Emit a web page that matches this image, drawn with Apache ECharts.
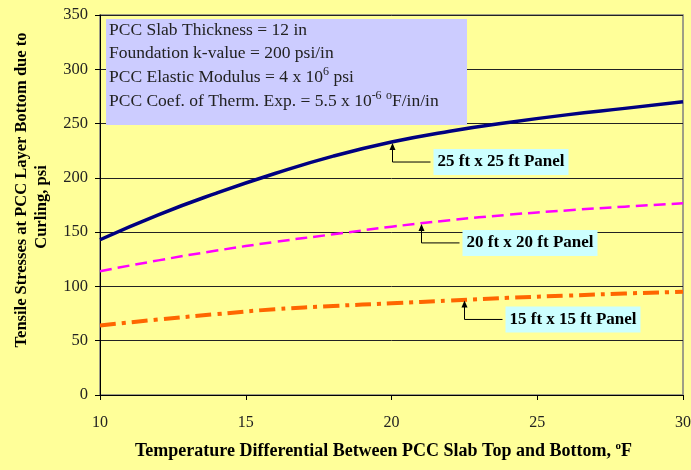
<!DOCTYPE html>
<html>
<head>
<meta charset="utf-8">
<script src="https://cdn.jsdelivr.net/npm/echarts@6/dist/echarts.min.js"></script>
<style>
html,body{margin:0;padding:0;background:#FFFF99;}
#chart{width:691px;height:470px;}
</style>
</head>
<body>
<div id="chart"></div>
<script>
// ---- data ----
var tempDiff = [10, 12, 14, 16, 18, 20, 22, 24, 26, 28, 30];
var panel25 = [143, 166, 186, 204, 220, 233, 243, 251, 258, 264, 270];
var panel20 = [114, 124, 133, 141, 148, 155, 161, 166, 170, 173.5, 176.5];
var panel15 = [64, 69.5, 74.5, 79, 82, 84.5, 87, 89.5, 91.5, 93.5, 95];
var seriesNames = ['25 ft x 25 ft Panel', '20 ft x 20 ft Panel', '15 ft x 15 ft Panel'];
var xTicks = [10, 15, 20, 25, 30];
var yTicks = [0, 50, 100, 150, 200, 250, 300, 350];
// annotation anchors (data coords)
var annoX = [20, 21, 22.5];
var annoY = [233, 158.5, 88];

var serif = 'Liberation Serif';

function pairs(xs, ys){ return xs.map(function(x,i){ return [x, ys[i]]; }); }

var chart = echarts.init(document.getElementById('chart'), null, {renderer:'canvas'});
var option = {
  backgroundColor: '#FFFF99',
  animation: false,
  grid: {left:100, right:8, top:15, bottom:75, show:true, borderColor:'#808080', borderWidth:1.5,
         backgroundColor:'transparent', containLabel:false, outerBoundsMode:'none'},
  xAxis: {
    type:'value', min:xTicks[0], max:xTicks[xTicks.length-1], interval:5,
    axisLine:{show:true, onZero:false, lineStyle:{color:'#000', width:1}},
    axisTick:{show:true, length:5, lineStyle:{color:'#000'}},
    axisLabel:{color:'#222', fontFamily:serif, fontSize:16, margin:20},
    splitLine:{show:false},
    name:'Temperature Differential Between PCC Slab Top and Bottom, {sup|o}F',
    nameLocation:'middle', nameGap:46,
    nameTextStyle:{fontFamily:serif, fontSize:18, fontWeight:'bold', color:'#000', padding:[0,16,0,0],
      rich:{sup:{fontFamily:serif, fontSize:11, fontWeight:'bold', color:'#000', verticalAlign:'top', padding:[0,0,9,0]}}}
  },
  yAxis: {
    type:'value', min:yTicks[0], max:yTicks[yTicks.length-1], interval:50,
    axisLine:{show:true, onZero:false, lineStyle:{color:'#000', width:1}},
    axisTick:{show:true, length:5, lineStyle:{color:'#000'}},
    axisLabel:{color:'#222', fontFamily:serif, fontSize:16.5, margin:12},
    splitLine:{show:true, lineStyle:{color:'#222', width:1}}
  },
  series: [
    {name:seriesNames[0], type:'line', smooth:true, showSymbol:false, data:pairs(tempDiff, panel25),
     lineStyle:{color:'#000080', width:3.5, type:'solid'}},
    {name:seriesNames[1], type:'line', smooth:true, showSymbol:false, data:pairs(tempDiff, panel20),
     lineStyle:{color:'#FF00FF', width:2.5, type:[12,6]}},
    {name:seriesNames[2], type:'line', smooth:true, showSymbol:false, data:pairs(tempDiff, panel15),
     lineStyle:{color:'#FF6600', width:4, type:[16,6,4,6]}}
  ]
};
chart.setOption(option);

// ---- overlay: info box, y-axis title, annotations ----
var g = [];
g.push({type:'rect', shape:{x:106, y:19, width:361, height:106}, style:{fill:'#CCCCFF'}, z:10});
var infoLines = [
  'PCC Slab Thickness = 12 in',
  'Foundation k-value = 200 psi/in',
  'PCC Elastic Modulus = 4 x 10{sup|6} psi',
  'PCC Coef. of Therm. Exp. = 5.5 x 10{sup|-6} {sup|o}F/in/in'
];
var infoY = [30, 53, 77, 101];
infoLines.forEach(function(t, i){
  g.push({type:'text', z:11, style:{text:t, x:109, y:infoY[i], verticalAlign:'middle', align:'left',
    fontFamily:serif, fontSize:17.5, fill:'#222',
    rich:{sup:{fontFamily:serif, fontSize:12, fill:'#222', verticalAlign:'top', padding:[0,0,10,0]}}}});
});
// y axis title
g.push({type:'text', z:11, x:22, y:190, rotation:Math.PI/2,
  style:{text:'Tensile Stresses at PCC Layer Bottom due to', align:'center', verticalAlign:'middle',
    fontFamily:serif, fontSize:16.5, fontWeight:'bold', fill:'#000'}});
g.push({type:'text', z:11, x:42, y:207, rotation:Math.PI/2,
  style:{text:'Curling, psi', align:'center', verticalAlign:'middle',
    fontFamily:serif, fontSize:16.5, fontWeight:'bold', fill:'#000'}});

annoX.forEach(function(ax, i){
  var p = chart.convertToPixel({gridIndex:0}, [ax, annoY[i]]);
  var tipX = Math.round(p[0]) + 0.5, tipY = p[1] + 1;
  var elbowY = tipY + 19;
  var boxX = tipX + 41;
  g.push({type:'polyline', z:12, shape:{points:[[tipX, tipY+6],[tipX, elbowY],[boxX-3, elbowY]]}, style:{stroke:'#000', lineWidth:1, fill:null}});
  g.push({type:'polygon', z:12, shape:{points:[[tipX, tipY],[tipX-3, tipY+7],[tipX+3, tipY+7]]}, style:{fill:'#000'}});
  g.push({type:'text', z:12, style:{text:seriesNames[i], x:boxX, y:elbowY, align:'left', verticalAlign:'middle',
    fontFamily:serif, fontSize:17, fontWeight:'bold', fill:'#000', backgroundColor:'#CCFFFF', padding:[5,4,4,4]}});
});
chart.setOption({graphic:g});
</script>
</body>
</html>
